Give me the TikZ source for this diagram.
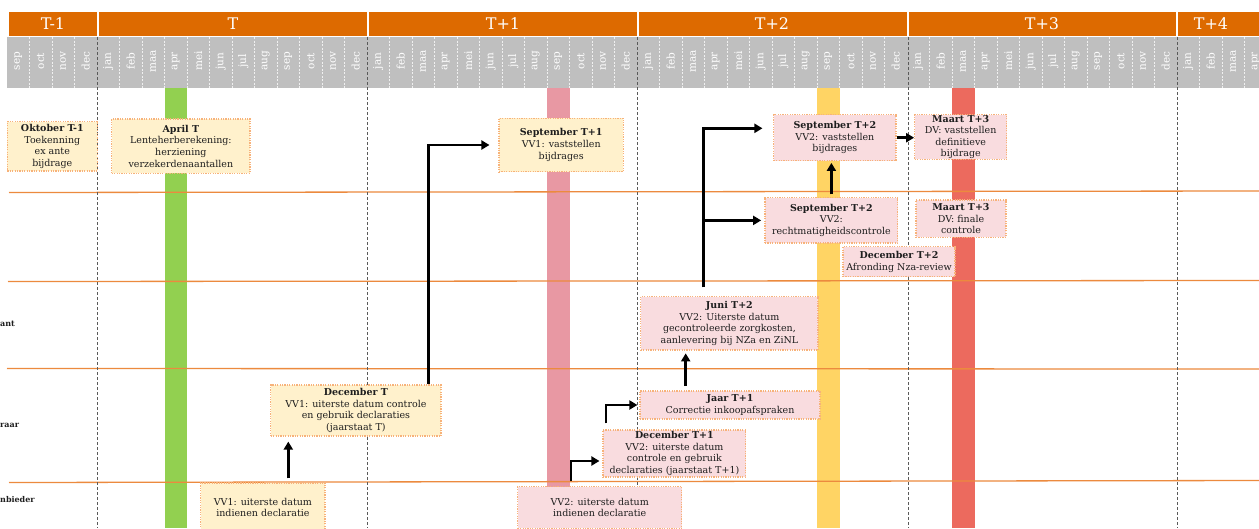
\documentclass[tikz,border=0pt]{standalone}
\usepackage{fontspec}
\setmainfont{DejaVu Serif}
\usetikzlibrary{arrows.meta}
\definecolor{koporanje}{HTML}{DD6A00}
\definecolor{maandgrijs}{HTML}{BFBFBF}
\definecolor{balkgroen}{HTML}{92D050}
\definecolor{balkroze}{HTML}{E898A3}
\definecolor{balkgeel}{HTML}{FFD464}
\definecolor{balkrood}{HTML}{EC6A5E}
\definecolor{vakgeel}{HTML}{FFF1CC}
\definecolor{vakroze}{HTML}{F9DCDF}
\definecolor{vakrand}{HTML}{F7B27A}
\definecolor{baanlijn}{HTML}{EC8A3E}
\definecolor{tekst}{HTML}{1E1E1E}

\begin{document}
\begin{tikzpicture}[x=1pt,y=1pt]
        \tikzstyle{every node}+=[inner sep=0pt]
        \tikzstyle{vak}=[draw=vakrand, line width=1.2pt, dash pattern=on 1.2pt off 1.2pt, align=center, text=tekst, font=\fontsize{9.5}{11.6}\selectfont]
        \tikzstyle{geel}=[vak, fill=vakgeel]
        \tikzstyle{roze}=[vak, fill=vakroze]
        \tikzstyle{maand}=[rotate=90, text=white, font=\fontsize{10.5}{10.5}\selectfont]
        \tikzstyle{jaar}=[text=white, font=\fontsize{16}{16}\selectfont]
        \tikzstyle{baan}=[anchor=west, text=tekst, font=\fontsize{8}{8}\selectfont\bfseries]
        \tikzstyle{pijl}=[black, line width=2.8pt, -{Triangle[length=8pt,width=9pt]}]
        \useasboundingbox (0,0) rectangle (1259,-528);
        \clip (0,0) rectangle (1259,-528);
        \fill [white] (0,0) rectangle (1259,-528);
        \fill [koporanje] (9,-12) rectangle (96.5,-36);
        \fill [koporanje] (98.5,-12) rectangle (366.5,-36);
        \fill [koporanje] (368.5,-12) rectangle (636.5,-36);
        \fill [koporanje] (638.5,-12) rectangle (906.5,-36);
        \fill [koporanje] (908.5,-12) rectangle (1175.5,-36);
        \fill [koporanje] (1177.5,-12) rectangle (1262,-36);
        \draw (53,-24) node (jmin1) [jaar] {T-1};
        \draw (233,-24) node (j0) [jaar] {T};
        \draw (503,-24) node (j1) [jaar] {T+1};
        \draw (772,-24) node (j2) [jaar] {T+2};
        \draw (1042,-24) node (j3) [jaar] {T+3};
        \draw (1211,-24) node (j4) [jaar] {T+4};
        \fill [maandgrijs] (7,-37) rectangle (1262,-88);
        \draw [white!88!gray, line width=0.5pt, dash pattern=on 2pt off 1.5pt] (29.5,-37) -- (29.5,-88) (52,-37) -- (52,-88) (74.5,-37) -- (74.5,-88) (119.5,-37) -- (119.5,-88) (142,-37) -- (142,-88) (164.5,-37) -- (164.5,-88) (187,-37) -- (187,-88) (209.5,-37) -- (209.5,-88) (232,-37) -- (232,-88) (254.5,-37) -- (254.5,-88) (277,-37) -- (277,-88) (299.5,-37) -- (299.5,-88) (322,-37) -- (322,-88) (344.5,-37) -- (344.5,-88);
        \draw [white!88!gray, line width=0.5pt, dash pattern=on 2pt off 1.5pt] (389.5,-37) -- (389.5,-88) (412,-37) -- (412,-88) (434.5,-37) -- (434.5,-88) (457,-37) -- (457,-88) (479.5,-37) -- (479.5,-88) (502,-37) -- (502,-88) (524.5,-37) -- (524.5,-88) (547,-37) -- (547,-88) (569.5,-37) -- (569.5,-88) (592,-37) -- (592,-88) (614.5,-37) -- (614.5,-88);
        \draw [white!88!gray, line width=0.5pt, dash pattern=on 2pt off 1.5pt] (659.5,-37) -- (659.5,-88) (682,-37) -- (682,-88) (704.5,-37) -- (704.5,-88) (727,-37) -- (727,-88) (749.5,-37) -- (749.5,-88) (772,-37) -- (772,-88) (794.5,-37) -- (794.5,-88) (817,-37) -- (817,-88) (839.5,-37) -- (839.5,-88) (862,-37) -- (862,-88) (884.5,-37) -- (884.5,-88);
        \draw [white!88!gray, line width=0.5pt, dash pattern=on 2pt off 1.5pt] (929.5,-37) -- (929.5,-88) (952,-37) -- (952,-88) (974.5,-37) -- (974.5,-88) (997,-37) -- (997,-88) (1019.5,-37) -- (1019.5,-88) (1042,-37) -- (1042,-88) (1064.5,-37) -- (1064.5,-88) (1087,-37) -- (1087,-88) (1109.5,-37) -- (1109.5,-88) (1132,-37) -- (1132,-88) (1154.5,-37) -- (1154.5,-88) (1199.5,-37) -- (1199.5,-88) (1222,-37) -- (1222,-88) (1244.5,-37) -- (1244.5,-88);
        \draw (18.25,-61) node (m01) [maand] {sep};
        \draw (40.75,-61) node (m02) [maand] {oct};
        \draw (63.25,-61) node (m03) [maand] {nov};
        \draw (85.75,-61) node (m04) [maand] {dec};
        \draw (108.25,-61) node (m05) [maand] {jan};
        \draw (130.75,-61) node (m06) [maand] {feb};
        \draw (153.25,-61) node (m07) [maand] {maa};
        \draw (175.75,-61) node (m08) [maand] {apr};
        \draw (198.25,-61) node (m09) [maand] {mei};
        \draw (220.75,-61) node (m10) [maand] {jun};
        \draw (243.25,-61) node (m11) [maand] {jul};
        \draw (265.75,-61) node (m12) [maand] {aug};
        \draw (288.25,-61) node (m13) [maand] {sep};
        \draw (310.75,-61) node (m14) [maand] {oct};
        \draw (333.25,-61) node (m15) [maand] {nov};
        \draw (355.75,-61) node (m16) [maand] {dec};
        \draw (378.25,-61) node (m17) [maand] {jan};
        \draw (400.75,-61) node (m18) [maand] {feb};
        \draw (423.25,-61) node (m19) [maand] {maa};
        \draw (445.75,-61) node (m20) [maand] {apr};
        \draw (468.25,-61) node (m21) [maand] {mei};
        \draw (490.75,-61) node (m22) [maand] {jun};
        \draw (513.25,-61) node (m23) [maand] {jul};
        \draw (535.75,-61) node (m24) [maand] {aug};
        \draw (558.25,-61) node (m25) [maand] {sep};
        \draw (580.75,-61) node (m26) [maand] {oct};
        \draw (603.25,-61) node (m27) [maand] {nov};
        \draw (625.75,-61) node (m28) [maand] {dec};
        \draw (648.25,-61) node (m29) [maand] {jan};
        \draw (670.75,-61) node (m30) [maand] {feb};
        \draw (693.25,-61) node (m31) [maand] {maa};
        \draw (715.75,-61) node (m32) [maand] {apr};
        \draw (738.25,-61) node (m33) [maand] {mei};
        \draw (760.75,-61) node (m34) [maand] {jun};
        \draw (783.25,-61) node (m35) [maand] {jul};
        \draw (805.75,-61) node (m36) [maand] {aug};
        \draw (828.25,-61) node (m37) [maand] {sep};
        \draw (850.75,-61) node (m38) [maand] {oct};
        \draw (873.25,-61) node (m39) [maand] {nov};
        \draw (895.75,-61) node (m40) [maand] {dec};
        \draw (918.25,-61) node (m41) [maand] {jan};
        \draw (940.75,-61) node (m42) [maand] {feb};
        \draw (963.25,-61) node (m43) [maand] {maa};
        \draw (985.75,-61) node (m44) [maand] {apr};
        \draw (1008.25,-61) node (m45) [maand] {mei};
        \draw (1030.75,-61) node (m46) [maand] {jun};
        \draw (1053.25,-61) node (m47) [maand] {jul};
        \draw (1075.75,-61) node (m48) [maand] {aug};
        \draw (1098.25,-61) node (m49) [maand] {sep};
        \draw (1120.75,-61) node (m50) [maand] {oct};
        \draw (1143.25,-61) node (m51) [maand] {nov};
        \draw (1165.75,-61) node (m52) [maand] {dec};
        \draw (1188.25,-61) node (m53) [maand] {jan};
        \draw (1210.75,-61) node (m54) [maand] {feb};
        \draw (1233.25,-61) node (m55) [maand] {maa};
        \draw (1255.75,-61) node (m56) [maand] {apr};
        \fill [balkgroen] (164.5,-88) rectangle (187,-528);
        \fill [balkroze] (547,-88) rectangle (569.5,-528);
        \fill [balkgeel] (817,-88) rectangle (839.5,-528);
        \fill [balkrood] (952,-88) rectangle (974.5,-528);
        \draw [baanlijn, line width=1.3pt] (9,-192.5) -- (1262,-191);
        \draw [baanlijn, line width=1.3pt] (8,-281.5) -- (1262,-280.5);
        \draw [baanlijn, line width=1.3pt] (7,-368.5) -- (1262,-369);
        \draw [baanlijn, line width=1.3pt] (9,-482.5) -- (1262,-480.5);
        \draw [black!65, line width=0.8pt, dash pattern=on 3pt off 2pt] (97.5,-37) -- (97.5,-528);
        \draw [black!65, line width=0.8pt, dash pattern=on 3pt off 2pt] (367.5,-37) -- (367.5,-528);
        \draw [black!65, line width=0.8pt, dash pattern=on 3pt off 2pt] (637.5,-37) -- (637.5,-528);
        \draw [black!65, line width=0.8pt, dash pattern=on 3pt off 2pt] (908,-37) -- (908,-528);
        \draw [black!65, line width=0.8pt, dash pattern=on 3pt off 2pt] (1177,-37) -- (1177,-528);
        \draw (0,-324) node (lbl1) [baan] {ant};
        \draw (0,-425) node (lbl2) [baan] {raar};
        \draw (0,-500) node (lbl3) [baan] {nbieder};
        \draw (52.3,-146.3) node (okt) [geel, minimum width=90pt, minimum height=49.3pt] {\textbf{Oktober T-1}\\Toekenning\\ex ante\\bijdrage};
        \draw (180.9,-146.2) node (aprT) [geel, minimum width=138.3pt, minimum height=54.3pt] {\textbf{April T}\\Lenteherberekening:\\herziening\\verzekerdenaantallen};
        \draw (561.2,-145) node (sepT1) [geel, minimum width=124.3pt, minimum height=53.4pt] {\textbf{September T+1}\\VV1: vaststellen\\bijdrages};
        \draw (834.9,-137.7) node (sepT2a) [roze, minimum width=122.3pt, minimum height=46pt] {\textbf{September T+2}\\VV2: vaststellen\\bijdrages};
        \draw (960.7,-137) node (mrtA) [roze, minimum width=92pt, minimum height=44.6pt] {\textbf{Maart T+3}\\DV: vaststellen\\definitieve\\bijdrage};
        \draw (831.4,-220.4) node (sepT2b) [roze, minimum width=132.7pt, minimum height=45.3pt] {\textbf{September T+2}\\VV2:\\rechtmatigheidscontrole};
        \draw (961,-218.7) node (mrtB) [roze, minimum width=90pt, minimum height=37.3pt] {\textbf{Maart T+3}\\DV: finale\\controle};
        \draw (899,-261.7) node (decT2) [roze, minimum width=112pt, minimum height=30pt] {\textbf{December T+2}\\Afronding Nza-review};
        \draw (729.4,-323.4) node (juni) [roze, minimum width=177.3pt, minimum height=53.3pt] {\textbf{Juni T+2}\\VV2: Uiterste datum\\gecontroleerde zorgkosten,\\aanlevering bij NZa en ZiNL};
        \draw (730,-405) node (jaarT1) [roze, minimum width=180pt, minimum height=28pt] {\textbf{Jaar T+1}\\Correctie inkoopafspraken};
        \draw (674.4,-453.5) node (decT1) [roze, minimum width=142.7pt, minimum height=47pt] {\textbf{December T+1}\\VV2: uiterste datum\\controle en gebruik\\declaraties (jaarstaat T+1)};
        \draw (355.9,-410.5) node (decT) [geel, minimum width=170.3pt, minimum height=51pt] {\textbf{December T}\\VV1: uiterste datum controle\\en gebruik declaraties\\(jaarstaat T)};
        \draw (262.9,-507.5) node (vv1) [geel, minimum width=124.3pt, minimum height=49pt] {VV1: uiterste datum\\indienen declaratie};
        \draw (599.7,-507.5) node (vv2) [roze, minimum width=164pt, minimum height=41.6pt] {VV2: uiterste datum\\indienen declaratie};
        \coordinate (p1) at ([xshift=25.4pt,yshift=4pt]vv1.north);
        \coordinate (p2) at ([xshift=72.4pt]decT.north);
        \coordinate (p3) at ([xshift=-28.7pt,yshift=5pt]vv2.north);
        \coordinate (q3) at ([yshift=-7.5pt]decT1.west);
        \coordinate (p4) at ([xshift=-68.4pt,yshift=6pt]decT1.north);
        \coordinate (p5) at ([xshift=-44.3pt,yshift=4.3pt]jaarT1.north);
        \coordinate (p6) at ([xshift=-25.7pt,yshift=8.7pt]juni.north);
        \coordinate (q6) at ([yshift=9.4pt]sepT2a.west);
        \coordinate (p7) at ([yshift=2.7pt]sepT2b.north);
        \draw [pijl, shorten >=5pt] (p1) -- (p1 |- decT.south);
        \draw [pijl, shorten >=9pt] (p2) |- (sepT1.west);
        \draw [pijl, shorten >=3pt] (p3) |- (q3);
        \draw [pijl, shorten >=2pt] (p4) |- (jaarT1.west);
        \draw [pijl, shorten >=2.7pt] (p5) -- (p5 |- juni.south);
        \draw [pijl, shorten >=10.7pt] (p6) |- (q6);
        \draw [pijl, shorten >=3.3pt] (p6 |- sepT2b.west) -- (sepT2b.west);
        \draw [pijl, shorten >=1.6pt] (p7) -- (p7 |- sepT2a.south);
        \draw [pijl] (sepT2a.east) -- (sepT2a.east -| mrtA.west);
        \end{tikzpicture}
\end{document}
